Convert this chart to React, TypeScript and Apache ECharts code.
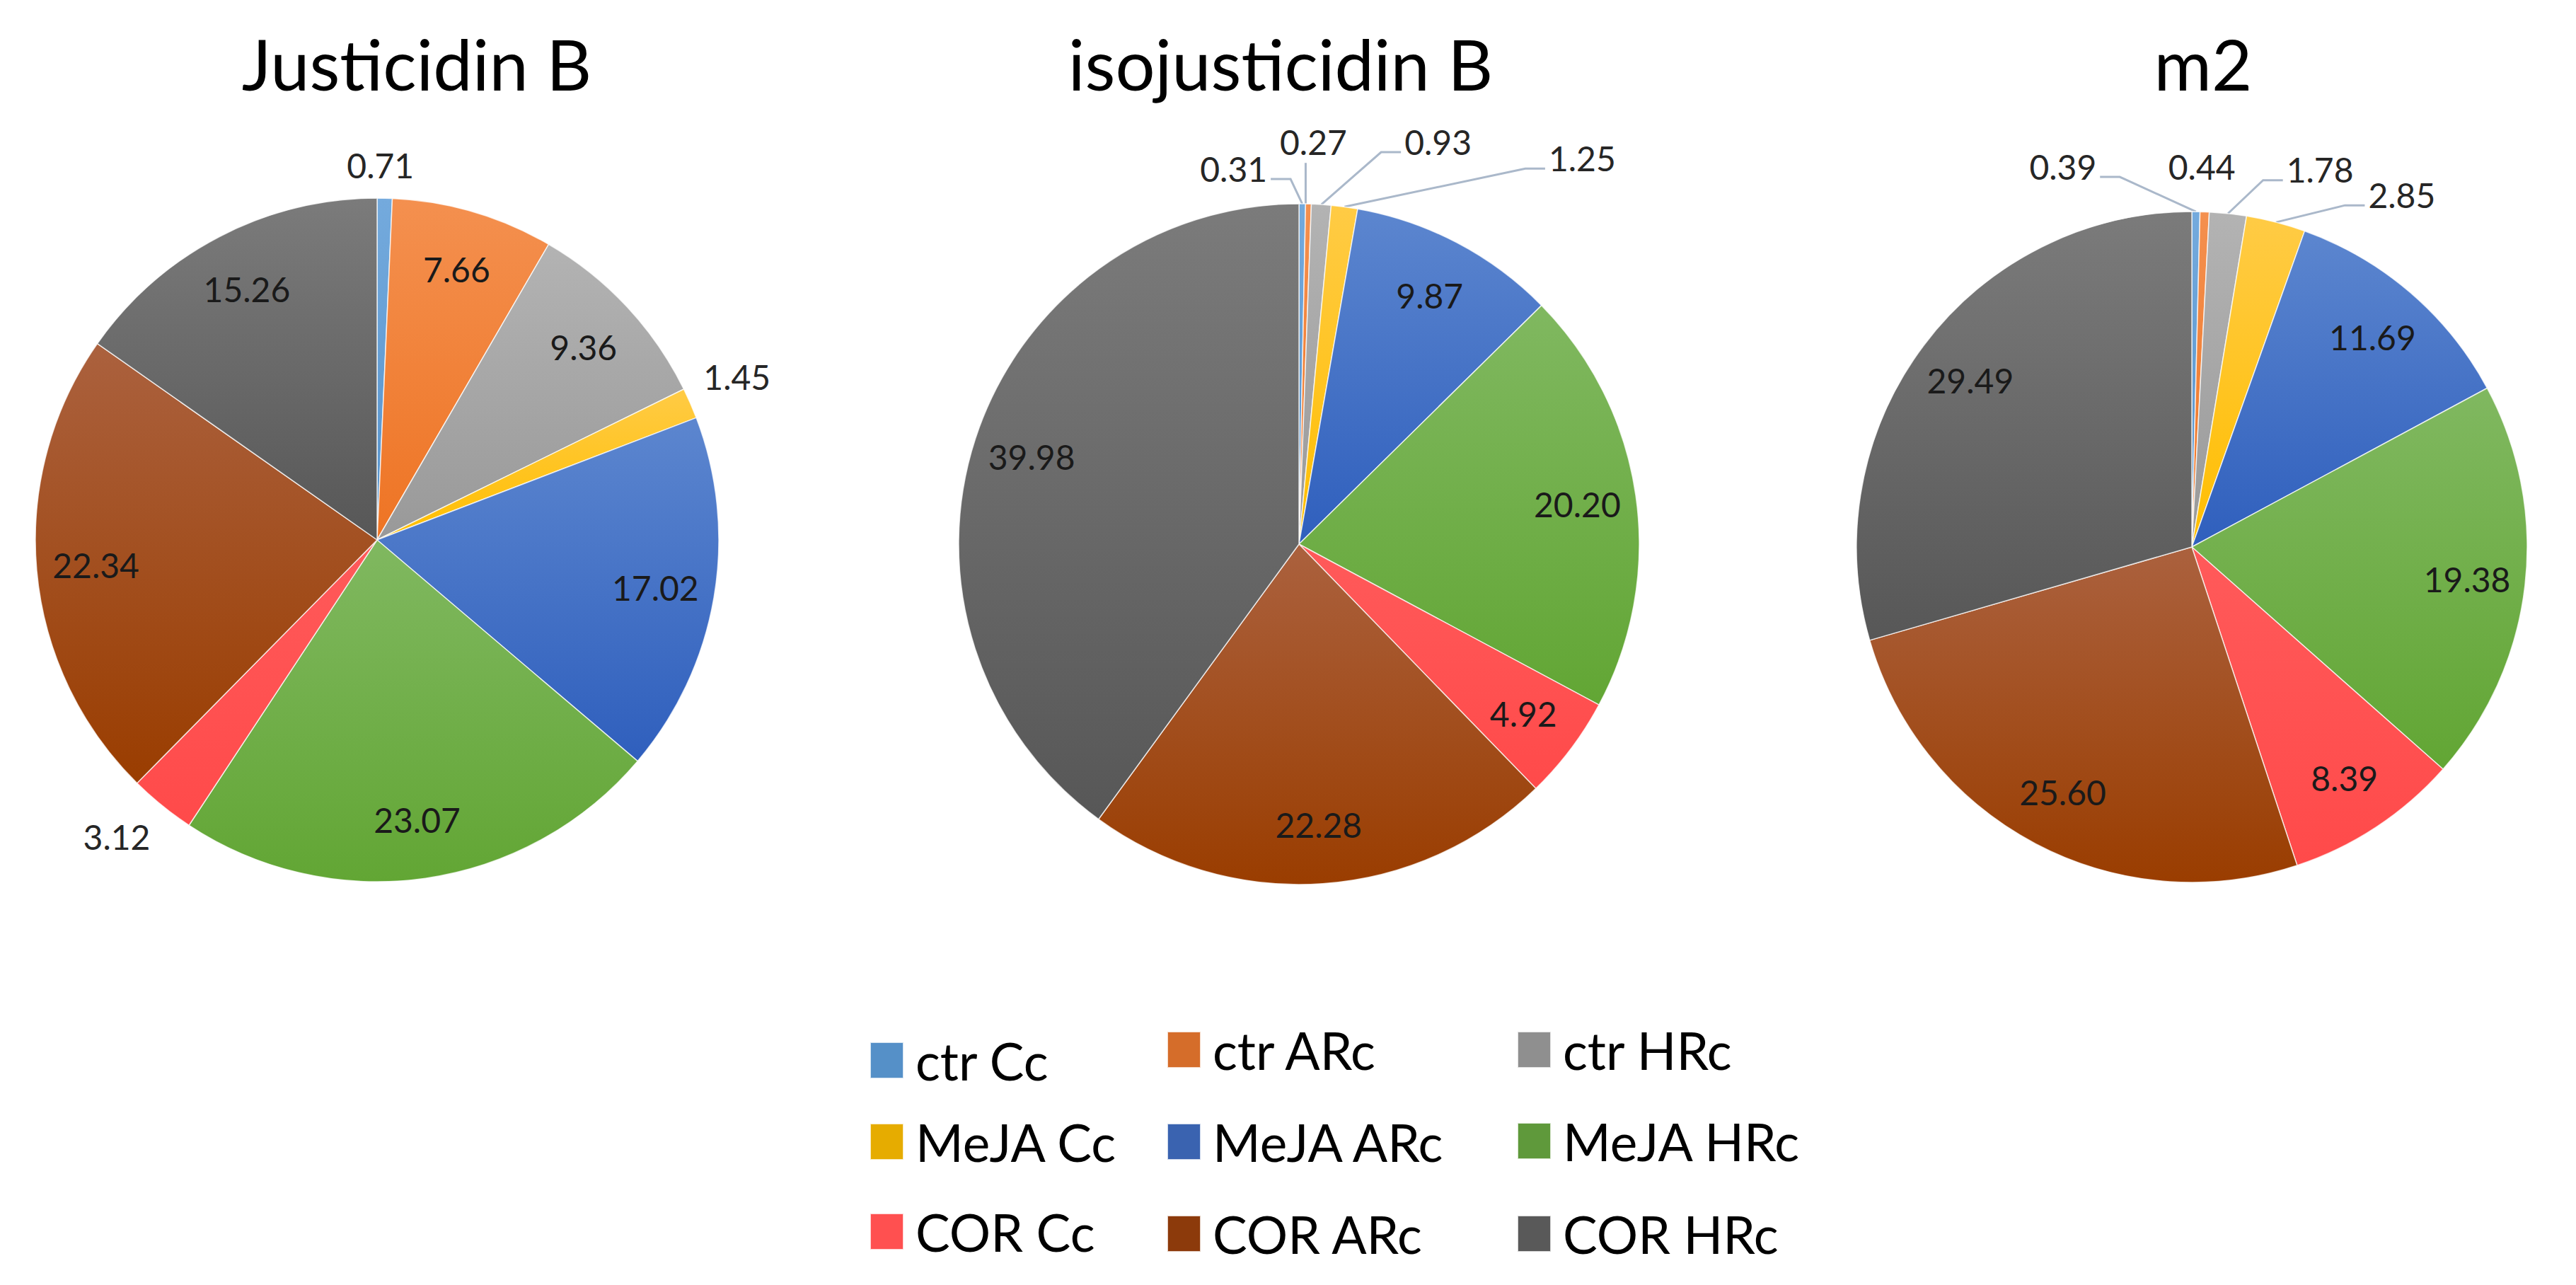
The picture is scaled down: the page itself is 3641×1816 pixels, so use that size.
import React, { useEffect, useRef } from 'react';
import * as echarts from 'echarts';

// ---------- data ----------
const categories = [
  'ctr Cc', 'ctr ARc', 'ctr HRc',
  'MeJA Cc', 'MeJA ARc', 'MeJA HRc',
  'COR Cc', 'COR ARc', 'COR HRc',
];
const titles = ['Justicidin B', 'isojusticidin B', 'm2'];
const justicidinB = [0.71, 7.66, 9.36, 1.45, 17.02, 23.07, 3.12, 22.34, 15.26];
const isojusticidinB = [0.31, 0.27, 0.93, 1.25, 9.87, 20.2, 4.92, 22.28, 39.98];
const m2 = [0.39, 0.44, 1.78, 2.85, 11.69, 19.38, 8.39, 25.6, 29.49];
const allValues = [justicidinB, isojusticidinB, m2];

// ---------- style ----------
const colorTop = ['#74AADD', '#F4904F', '#B3B3B3', '#FFCB45', '#5C86CF', '#80B860', '#FF5A5A', '#AB613E', '#7B7B7B'];
const colorBottom = ['#5592CB', '#EE7424', '#999999', '#FFBE00', '#2F5FBD', '#62A634', '#FF4A4A', '#9A3D00', '#575757'];
const legendColors = ['#5590C8', '#D56D2A', '#8F8F8F', '#E6AC00', '#3A63B0', '#5F993B', '#FF5050', '#8C3A0B', '#595959'];
const FONT = 'Lato, "Open Sans", sans-serif';
const OUTSIDE_BELOW = 4; // slices smaller than this get their label outside

const pies = [
  { cx: 533, cy: 763, r: 483, titleX: 589 },
  { cx: 1836, cy: 769, r: 481, titleX: 1810 },
  { cx: 3098, cy: 773, r: 474, titleX: 3114 },
];
// label nudges (pixels from the slice's mid-angle point on the rim) and leader kind
const outsideNudges: Array<Record<number, [number, number, string]>> = [
  { 0: [-6, -47, 'none'], 3: [66, -37, 'none'], 6: [-64, 44, 'none'] },
  { 0: [-97, -50, 'left'], 1: [7, -88, 'down'], 2: [165, -89, 'right'], 3: [336, -69, 'right'] },
  { 0: [-188, -64, 'left'], 1: [-4, -64, 'none'], 2: [130, -62, 'right'], 3: [178, -39, 'right'] },
];
// legend marker positions: column lefts and marker tops per item
const legendLefts = [1229, 1649, 2144];
const legendMarkerTops = [1482, 1467, 1467, 1597, 1597, 1596, 1724, 1727, 1727];
const LEGEND_TEXT_OVERHANG = 20;

function midAngles(values: number[]) {
  const total = values.reduce((a, b) => a + b, 0);
  let cum = 0;
  return values.map((v) => {
    const m = ((cum + v / 2) / total) * Math.PI * 2;
    cum += v;
    return m;
  });
}

const fmt = (p: any) => Number(p.value).toFixed(2);

function buildOption() {
  const series: any[] = [];
  allValues.forEach((values, i) => {
    const { cx, cy, r } = pies[i];
    const angles = midAngles(values);
    series.push({
      type: 'pie',
      center: [cx, cy],
      radius: r,
      startAngle: 90,
      clockwise: true,
      avoidLabelOverlap: false,
      silent: true,
      z: 2,
      itemStyle: { borderColor: 'rgba(255,255,255,0.75)', borderWidth: 1.5 },
      label: {
        show: false,
        position: 'outside',
        formatter: fmt,
        fontFamily: FONT,
        fontSize: 48,
        color: '#262626',
      },
      labelLine: {
        show: i > 0,
        showAbove: true,
        length: 10,
        length2: 10,
        lineStyle: { color: '#AAB8CA', width: 3 },
      },
      labelLayout: (params: any) => {
        const nudge = outsideNudges[i][params.dataIndex];
        if (!nudge) return {};
        const th = angles[params.dataIndex];
        const ax = cx + r * Math.sin(th);
        const ay = cy - r * Math.cos(th);
        const lx = ax + nudge[0];
        const ly = ay + nudge[1];
        const w = params.labelRect.width;
        const kind = nudge[2];
        let pts: number[][];
        if (kind === 'right') {
          const px = lx - w / 2 - 5;
          const py = ly + 15;
          pts = [[ax, ay], [px - 28, py], [px, py]];
        } else if (kind === 'left') {
          const px = lx + w / 2 + 5;
          const py = ly + 15;
          pts = [[ax, ay], [px + 28, py], [px, py]];
        } else if (kind === 'down') {
          pts = [[ax - 4, ay], [ax - 4, ly + 30], [ax - 4, ly + 30]];
        } else {
          pts = [[ax, ay], [ax, ay], [ax, ay]];
        }
        return { x: lx, y: ly, align: 'center', verticalAlign: 'middle', labelLinePoints: pts };
      },
      data: values.map((v, k) => ({
        value: v,
        name: categories[k],
        itemStyle: {
          color: new echarts.graphic.LinearGradient(0, 0, 0, 1, [
            { offset: 0, color: colorTop[k] },
            { offset: 1, color: colorBottom[k] },
          ]),
        },
        label: { show: v < OUTSIDE_BELOW },
        labelLine: { show: i > 0 && v < OUTSIDE_BELOW },
      })),
    });
    // transparent ring carrying the inside labels at ~0.82 r
    series.push({
      type: 'pie',
      center: [cx, cy],
      radius: [r * 0.64, r],
      startAngle: 90,
      clockwise: true,
      avoidLabelOverlap: false,
      silent: true,
      legendHoverLink: false,
      z: 3,
      itemStyle: { color: 'rgba(0,0,0,0)', borderWidth: 0 },
      emphasis: { disabled: true },
      label: {
        show: true,
        position: 'inside',
        formatter: fmt,
        fontFamily: FONT,
        fontSize: 48,
        color: '#1A1A1A',
      },
      labelLine: { show: false },
      data: values.map((v, k) => ({
        value: v,
        name: categories[k],
        label: { show: v >= OUTSIDE_BELOW },
      })),
    });
  });

  return {
    animation: false,
    backgroundColor: '#ffffff',
    title: titles.map((t, i) => ({
      text: t,
      left: pies[i].titleX,
      top: 40,
      textAlign: 'center',
      textVerticalAlign: 'top',
      padding: 0,
      textStyle: { fontFamily: FONT, fontSize: 99, fontWeight: 'normal', color: '#000000' },
    })),
    legend: categories.map((name, k) => ({
      orient: 'horizontal',
      left: legendLefts[k % 3],
      top: legendMarkerTops[k] - LEGEND_TEXT_OVERHANG,
      padding: 0,
      itemWidth: 47,
      itemHeight: 51,
      icon: 'rect',
      selectedMode: false,
      textStyle: { fontFamily: FONT, fontSize: 73, color: '#000000', padding: [0, 0, 0, 12] },
      data: [{ name, itemStyle: { color: legendColors[k] } }],
    })),
    series,
  };
}

export default function App() {
  const ref = useRef<HTMLDivElement>(null);
  useEffect(() => {
    if (!ref.current) return;
    const chart = echarts.init(ref.current, undefined, { renderer: 'svg' });
    chart.setOption(buildOption() as any);
    return () => chart.dispose();
  }, []);
  return (
    <div
      ref={ref}
      style={{ position: 'fixed', left: 0, top: 0, width: 3641, height: 1816, background: '#ffffff' }}
    />
  );
}
